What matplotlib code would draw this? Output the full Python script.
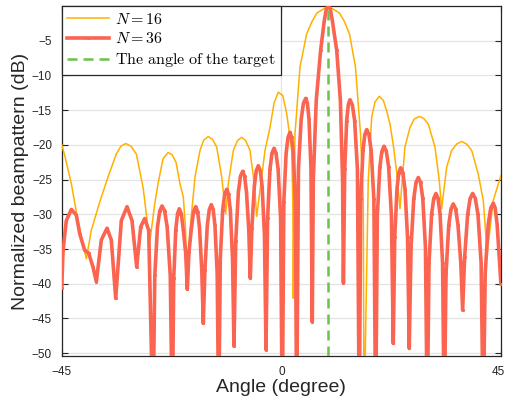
import matplotlib
matplotlib.use("Agg")
import matplotlib.pyplot as plt
import matplotlib.transforms as mtransforms

plt.rcParams['font.family'] = ['Liberation Sans', 'DejaVu Sans']
plt.rcParams['mathtext.fontset'] = 'cm'

# 1. DATA (angle in degree / level in dB)
# N = 16 beampattern
n16_angle = [-45.00, -44.39, -43.03, -41.66, -39.96, -38.94, -37.20, -35.51, -33.81, -32.90, -31.89, -30.80, -29.72,
             -28.34, -28.00, -27.40, -27.00, -26.40, -25.95, -25.27, -24.25, -23.22, -22.40, -21.58,
             -20.77, -20.09, -19.64, -19.33, -18.72, -17.69, -16.67, -15.90, -14.97, -14.10, -13.25, -12.22,
             -11.69, -11.40, -10.87, -9.84, -9.00, -8.12, -7.30, -6.42, -5.54, -5.05, -4.37, -3.35,
             -2.33, -1.50, -0.63, 0.30, 1.10, 2.12, 2.35, 2.45, 2.60, 2.80,
             3.82, 5.19, 6.30, 7.30, 9.62, 11.90, 12.90, 13.96, 15.19, 16.22, 16.79, 16.95,
             17.81, 18.51, 19.20, 20.07, 20.90, 21.58, 22.26, 22.94, 23.64, 24.31, 25.33, 26.36, 27.20,
             28.26, 29.20, 30.11, 31.48, 32.36, 32.85, 33.88, 34.90, 35.90, 36.95, 38.00, 39.00, 40.35,
             41.38, 42.19, 43.42, 45.00]
n16_db = [-20.0, -21.5, -25.6, -31.0, -36.4, -32.3, -28.2, -24.6, -21.3, -20.2, -19.8, -20.2, -21.3,
          -26.1, -28.0, -31.5, -34.2, -31.0, -28.5, -25.6, -22.0, -21.1, -21.4, -22.5,
          -25.6, -27.5, -32.0, -40.7, -32.3, -24.6, -20.8, -19.3, -18.8, -19.2, -20.3, -24.6,
          -28.0, -29.9, -25.6, -20.8, -19.4, -18.9, -19.4, -20.8, -25.6, -30.3, -26.5, -20.8,
          -17.5, -14.0, -12.4, -12.9, -15.5, -20.8, -28.0, -42.1, -28.0, -18.4,
          -8.8, -4.0, -2.2, -1.0, 0.0, -1.0, -2.2, -4.0, -8.8, -18.4, -28.0, -60.0,
          -25.1, -16.0, -13.8, -13.0, -13.6, -15.1, -17.0, -20.0, -24.0, -29.2, -20.3, -17.5, -16.3,
          -15.9, -16.2, -17.0, -20.3, -25.1, -29.2, -23.2, -20.8, -19.9, -19.5, -19.9, -20.8, -24.2,
          -28.0, -35.6, -28.0, -24.4]

# N = 36 beampattern
n36_angle = [-45.00, -44.73, -44.06, -43.03, -42.01, -41.31, -40.29, -39.47, -38.59, -37.91,
             -36.89, -35.72, -34.84, -33.94, -32.79, -31.62, -30.60, -29.64, -28.82, -28.00,
             -27.18, -26.30,
             -25.93, -25.38, -24.91, -24.45, -23.92, -23.40, -22.76, -22.34,
             -22.05, -21.63, -21.27, -20.91, -20.50, -20.09, -19.60, -19.27,
             -18.93, -18.41, -17.98, -17.55, -17.16, -16.77, -16.30, -15.99,
             -15.66, -15.17, -14.76, -14.35, -13.97, -13.60, -13.14, -12.84,
             -12.51, -12.02, -11.61, -11.20, -10.82, -10.45, -10.00, -9.70,
             -9.34, -8.81, -8.37, -7.92, -7.53, -7.14, -6.67, -6.36,
             -6.03, -5.54, -5.13, -4.72, -4.32, -3.93, -3.46, -3.14,
             -2.81, -2.33, -1.92, -1.51, -1.09, -0.66, -0.15, 0.19,
             0.51, 0.98, 1.38, 1.77, 2.11, 2.46, 2.87, 3.14,
             3.51, 4.07, 4.53, 4.99, 5.33, 5.67, 6.07, 6.34,
             6.55, 7.15, 8.05, 8.80, 9.20, 9.62, 10.05, 10.45, 11.35, 12.10, 12.55, 12.72,
             12.99, 13.39, 13.73, 14.06, 14.54, 15.02, 15.59, 15.97,
             16.27, 16.73, 17.11, 17.49, 17.95, 18.41, 18.96, 19.33,
             19.67, 20.18, 20.61, 21.03, 21.51, 21.99, 22.56, 22.94,
             23.24, 23.70, 24.07, 24.45, 24.89, 25.33, 25.86, 26.21,
             26.58, 27.14, 27.60, 28.06, 28.52, 28.98, 29.53, 29.90,
             30.26, 30.79, 31.24, 31.68, 32.11, 32.53, 33.04, 33.38,
             33.75, 34.31, 34.77, 35.23, 35.71, 36.19, 36.77, 37.15,
             37.56, 38.18, 38.69, 39.20, 39.74, 40.29, 40.94, 41.37,
             41.78, 42.40, 42.91, 43.42, 43.82, 44.21, 45.00]
n36_db = [-40.6, -35.2, -30.9, -29.3, -30.1, -32.8, -35.2, -35.6, -37.6, -39.7,
          -33.7, -32.0, -33.7, -42.1, -30.9, -28.9, -30.9, -37.6, -31.8, -30.6,
          -32.3, -60.0,
          -38.8, -31.8, -29.5, -28.8, -29.5, -31.8, -38.8, -60.0,
          -39.2, -32.2, -29.9, -29.2, -29.9, -32.2, -35.6, -40.8,
          -35.4, -31.9, -29.6, -28.9, -29.6, -31.9, -38.1, -45.7,
          -38.0, -31.6, -29.3, -28.6, -29.3, -31.6, -38.6, -60.0,
          -36.4, -29.4, -27.1, -26.4, -27.1, -29.4, -36.4, -49.0,
          -33.8, -26.8, -24.5, -23.8, -24.5, -26.8, -32.3, -39.2,
          -31.9, -26.0, -23.7, -23.0, -23.7, -26.0, -33.0, -49.5,
          -30.5, -23.5, -21.2, -20.5, -21.2, -23.5, -30.5, -60.0,
          -28.2, -21.2, -18.9, -18.2, -18.9, -21.2, -28.2, -60.0,
          -23.3, -16.3, -14.0, -13.3, -14.0, -16.3, -23.3, -45.5,
          -25.1, -13.6, -6.4, -2.1, -0.5, 0.0, -0.5, -2.1, -6.4, -13.6, -25.1, -39.9,
          -23.5, -16.5, -14.2, -13.5, -14.2, -16.5, -23.5, -60.0,
          -27.8, -20.8, -18.5, -17.8, -18.5, -20.8, -27.8, -60.0,
          -30.2, -23.2, -20.9, -20.2, -20.9, -23.2, -30.2, -48.6,
          -33.3, -26.3, -24.0, -23.3, -24.0, -26.3, -33.3, -49.3,
          -34.7, -27.7, -25.4, -24.7, -25.4, -27.7, -34.7, -60.0,
          -37.0, -30.0, -27.7, -27.0, -27.7, -30.0, -37.0, -60.0,
          -38.5, -31.5, -29.2, -28.5, -29.2, -31.5, -36.9, -43.8,
          -36.2, -30.0, -27.7, -27.0, -27.7, -30.0, -37.0, -60.0,
          -38.4, -31.4, -29.1, -28.4, -29.1, -31.4, -40.0]

target_angle = 9.62
x_ticks = [-45, 0, 45]
y_ticks = [-50, -45, -40, -35, -30, -25, -20, -15, -10, -5]

# 2. PLOT
fig = plt.figure(figsize=(5.06, 4.09), dpi=100)
ax = fig.add_axes([0.122, 0.1296, 0.868, 0.8557])

ax.plot(n16_angle, n16_db, color='#FFB000', linewidth=1.1, label=r'$N=16$', zorder=3)
ax.plot(n36_angle, n36_db, color='#FA6450', linewidth=2.6, marker='.', markersize=2.5,
        label=r'$N=36$', zorder=4)
ax.axvline(target_angle, color='#6CC24A', linewidth=1.8, dashes=(4.0, 2.4),
           label=r'$\mathrm{The\ angle\ of\ the\ target}$', zorder=5)

ax.set_xlim(-45, 45)
ax.set_ylim(-50.4, 0)
ax.set_xticks(x_ticks)
ax.set_yticks(y_ticks)
ax.tick_params(direction='in', length=4, width=0.8, labelsize=8.5, colors='#262626',
               top=True, right=True, pad=7)
ax.grid(True, color='#E3E3E3', linewidth=0.9)
ax.set_axisbelow(True)
for s in ax.spines.values():
    s.set_color('#262626')
    s.set_linewidth(0.9)

# keep the last x label inside the picture
last = ax.get_xticklabels()[-1]
last.set_transform(last.get_transform() + mtransforms.ScaledTranslation(-0.03, 0, fig.dpi_scale_trans))

ax.set_xlabel('Angle (degree)', fontsize=14, color='#262626', labelpad=1)
ax.set_ylabel('Normalized beampattern (dB)', fontsize=14, color='#262626', labelpad=2)

leg = ax.legend(loc='upper left', bbox_to_anchor=(0, 1), borderaxespad=0,
                fancybox=False, framealpha=1, edgecolor='#262626', fontsize=11.5,
                handlelength=2.6, handletextpad=0.4, labelspacing=0.3, borderpad=0.35)
leg.get_frame().set_linewidth(0.9)

plt.savefig('out.png', dpi=100)
